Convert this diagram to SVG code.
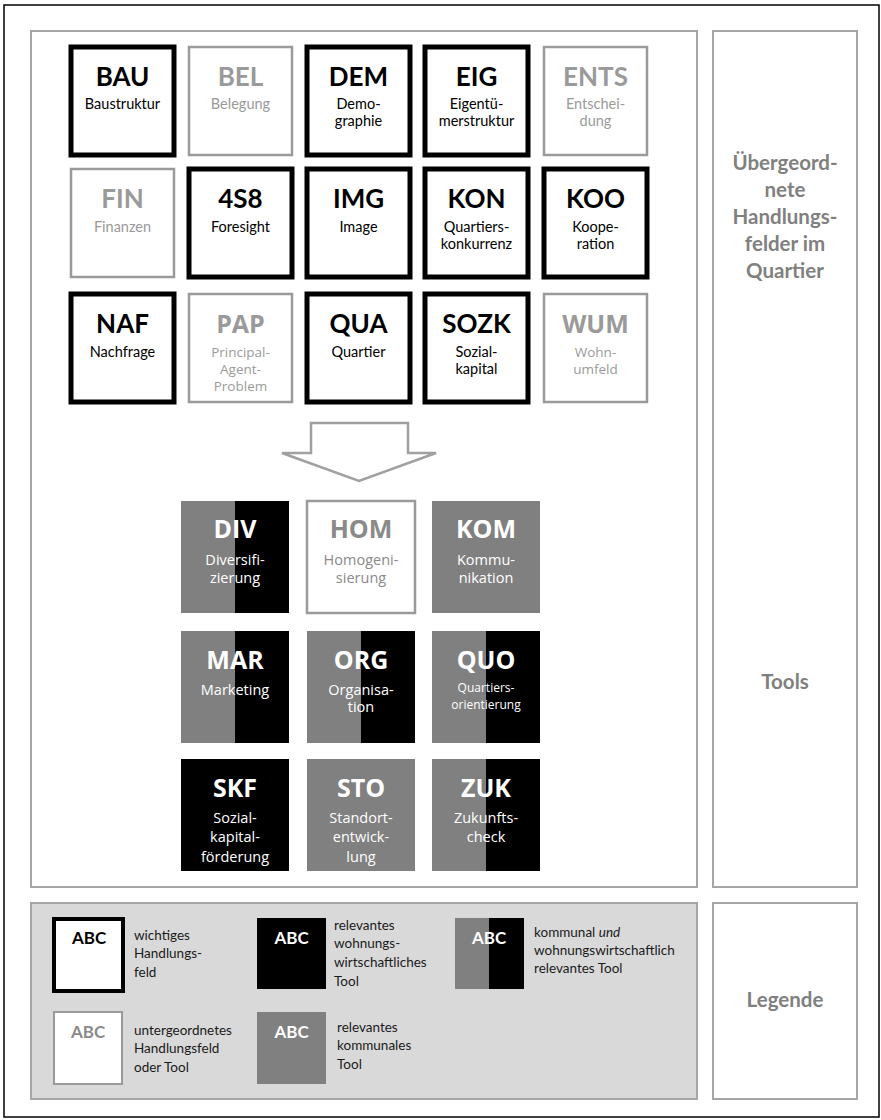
<svg xmlns="http://www.w3.org/2000/svg" width="881" height="1120" viewBox="0 0 881 1120">
<style>
.panel{fill:#fff;stroke:#a6a6a6;stroke-width:2}
.imp{fill:#fff;stroke:#000;stroke-width:5}
.sub{fill:#fff;stroke:#9a9a9a;stroke-width:2.5}
.ab{font-family:Lato,"Liberation Sans",sans-serif;font-weight:bold;font-size:26px;text-anchor:middle}
.st{font-family:Lato,"Liberation Sans",sans-serif;font-size:14.5px;text-anchor:middle}
.abo{font-family:"Open Sans","Liberation Sans",sans-serif;font-weight:bold;font-size:25px;text-anchor:middle}
.sto{font-family:"Open Sans","Liberation Sans",sans-serif;font-size:14.5px;text-anchor:middle}
.k{fill:#000}
.g{fill:#9a9a9a}
.w{fill:#fff}
.gr{fill:#808080}
.bl{fill:#000}
.side{font-family:Lato,"Liberation Sans",sans-serif;font-weight:bold;font-size:20.5px;text-anchor:middle;fill:#808080}
.lg{font-family:Lato,"Liberation Sans",sans-serif;font-size:13.5px;fill:#1a1a1a}
.lab{font-family:Lato,"Liberation Sans",sans-serif;font-weight:bold;font-size:17px;text-anchor:middle}
</style>
<rect x="0" y="0" width="881" height="1120" fill="#fff"/>
<rect x="4" y="5" width="875" height="1112" fill="none" stroke="#000" stroke-width="1.5"/>
<g id="panels">
<rect class="panel" x="31" y="31" width="666" height="856"/>
<rect class="panel" x="713" y="31" width="144" height="856"/>
<rect x="31" y="903" width="666" height="196" fill="#d9d9d9" stroke="#a6a6a6" stroke-width="2"/>
<rect class="panel" x="713" y="903" width="144" height="196"/>
<text class="side" x="785" y="170">Übergeord-</text>
<text class="side" x="785" y="197">nete</text>
<text class="side" x="785" y="224">Handlungs-</text>
<text class="side" x="785" y="251">felder im</text>
<text class="side" x="785" y="278">Quartier</text>
<text class="side" x="785" y="689">Tools</text>
<text class="side" x="785" y="1007">Legende</text>
</g>
<g id="BAU"><rect class="imp" x="71" y="47" width="103" height="108"/><text class="ab k" x="122.5" y="86">BAU</text><text class="st k" x="122.5" y="109">Baustruktur</text></g>
<g id="BEL"><rect class="sub" x="189" y="47" width="103" height="108"/><text class="ab g" x="240.5" y="86">BEL</text><text class="st g" x="240.5" y="109">Belegung</text></g>
<g id="DEM"><rect class="imp" x="307" y="47" width="103" height="108"/><text class="ab k" x="358.5" y="86">DEM</text><text class="st k" x="358.5" y="109">Demo-</text><text class="st k" x="358.5" y="126">graphie</text></g>
<g id="EIG"><rect class="imp" x="425" y="47" width="103" height="108"/><text class="ab k" x="476.5" y="86">EIG</text><text class="st k" x="476.5" y="109">Eigentü-</text><text class="st k" x="476.5" y="126">merstruktur</text></g>
<g id="ENTS"><rect class="sub" x="544" y="47" width="103" height="108"/><text class="ab g" x="595.5" y="86">ENTS</text><text class="st g" x="595.5" y="109">Entschei-</text><text class="st g" x="595.5" y="126">dung</text></g>
<g id="FIN"><rect class="sub" x="71" y="169" width="103" height="108"/><text class="ab g" x="122.5" y="208">FIN</text><text class="st g" x="122.5" y="232">Finanzen</text></g>
<g id="4S8"><rect class="imp" x="189" y="169" width="103" height="108"/><text class="ab k" x="240.5" y="208">4S8</text><text class="st k" x="240.5" y="232">Foresight</text></g>
<g id="IMG"><rect class="imp" x="307" y="169" width="103" height="108"/><text class="ab k" x="358.5" y="208">IMG</text><text class="st k" x="358.5" y="232">Image</text></g>
<g id="KON"><rect class="imp" x="425" y="169" width="103" height="108"/><text class="ab k" x="476.5" y="208">KON</text><text class="st k" x="476.5" y="232">Quartiers-</text><text class="st k" x="476.5" y="249">konkurrenz</text></g>
<g id="KOO"><rect class="imp" x="544" y="169" width="103" height="108"/><text class="ab k" x="595.5" y="208">KOO</text><text class="st k" x="595.5" y="232">Koope-</text><text class="st k" x="595.5" y="249">ration</text></g>
<g id="NAF"><rect class="imp" x="71" y="294" width="103" height="108"/><text class="ab k" x="122.5" y="333">NAF</text><text class="st k" x="122.5" y="357">Nachfrage</text></g>
<g id="PAP"><rect class="sub" x="189" y="294" width="103" height="108"/><text class="abo g" x="240.5" y="333">PAP</text><text class="sto g" x="240.5" y="357" style="font-size:13.5px">Principal-</text><text class="sto g" x="240.5" y="374" style="font-size:13.5px">Agent-</text><text class="sto g" x="240.5" y="391" style="font-size:13.5px">Problem</text></g>
<g id="QUA"><rect class="imp" x="307" y="294" width="103" height="108"/><text class="ab k" x="358.5" y="333">QUA</text><text class="st k" x="358.5" y="357">Quartier</text></g>
<g id="SOZK"><rect class="imp" x="425" y="294" width="103" height="108"/><text class="ab k" x="476.5" y="333">SOZK</text><text class="st k" x="476.5" y="357">Sozial-</text><text class="st k" x="476.5" y="374">kapital</text></g>
<g id="WUM"><rect class="sub" x="544" y="294" width="103" height="108"/><text class="abo g" x="595.5" y="333">WUM</text><text class="sto g" x="595.5" y="357" style="font-size:13.5px">Wohn-</text><text class="sto g" x="595.5" y="374" style="font-size:13.5px">umfeld</text></g>
<g id="connectors">
<polygon points="311,423 408,423 408,453 436,453 359,481 282,453 311,453" fill="#fff" stroke="#a0a0a0" stroke-width="2.5" stroke-linejoin="miter"/>
</g>
<g id="DIV"><rect class="gr" x="181" y="501" width="54" height="112"/><rect class="bl" x="235" y="501" width="54" height="112"/><text class="abo w" x="235" y="538">DIV</text><text class="sto w" x="235" y="565">Diversifi-</text><text class="sto w" x="235" y="583">zierung</text></g>
<g id="HOM"><rect class="sub" x="307" y="501" width="108" height="112"/><text class="abo" fill="#8a8a8a" x="361" y="538">HOM</text><text class="sto" fill="#8a8a8a" x="361" y="565">Homogeni-</text><text class="sto" fill="#8a8a8a" x="361" y="583">sierung</text></g>
<g id="KOM"><rect class="gr" x="432" y="501" width="108" height="112"/><text class="abo w" x="486" y="538">KOM</text><text class="sto w" x="486" y="565">Kommu-</text><text class="sto w" x="486" y="583">nikation</text></g>
<g id="MAR"><rect class="gr" x="181" y="631" width="54" height="112"/><rect class="bl" x="235" y="631" width="54" height="112"/><text class="abo w" x="235" y="669">MAR</text><text class="sto w" x="235" y="695">Marketing</text></g>
<g id="ORG"><rect class="gr" x="307" y="631" width="54" height="112"/><rect class="bl" x="361" y="631" width="54" height="112"/><text class="abo w" x="361" y="669">ORG</text><text class="sto w" x="361" y="695">Organisa-</text><text class="sto w" x="361" y="712">tion</text></g>
<g id="QUO"><rect class="gr" x="432" y="631" width="54" height="112"/><rect class="bl" x="486" y="631" width="54" height="112"/><text class="abo w" x="486" y="669">QUO</text><text class="sto w" x="486" y="692" style="font-size:12px">Quartiers-</text><text class="sto w" x="486" y="709" style="font-size:12px">orientierung</text></g>
<g id="SKF"><rect class="bl" x="181" y="759" width="108" height="112"/><text class="abo w" x="235" y="797">SKF</text><text class="sto w" x="235" y="823">Sozial-</text><text class="sto w" x="235" y="842">kapital-</text><text class="sto w" x="235" y="862">förderung</text></g>
<g id="STO"><rect class="gr" x="307" y="759" width="108" height="112"/><text class="abo w" x="361" y="797">STO</text><text class="sto w" x="361" y="823">Standort-</text><text class="sto w" x="361" y="842">entwick-</text><text class="sto w" x="361" y="862">lung</text></g>
<g id="ZUK"><rect class="gr" x="432" y="759" width="54" height="112"/><rect class="bl" x="486" y="759" width="54" height="112"/><text class="abo w" x="486" y="797">ZUK</text><text class="sto w" x="486" y="823">Zukunfts-</text><text class="sto w" x="486" y="842">check</text></g>
<g id="legend">
<g id="leg-important"><rect x="54" y="919" width="69" height="72" fill="#fff" stroke="#000" stroke-width="4"/><text class="lab k" x="89" y="944">ABC</text><text class="lg" x="134" y="940">wichtiges</text><text class="lg" x="134" y="958">Handlungs-</text><text class="lg" x="134" y="977">feld</text></g>
<g id="leg-housing"><rect x="257" y="918" width="69" height="71" fill="#000"/><text class="lab w" x="291.5" y="944">ABC</text><text class="lg" x="334" y="930">relevantes</text><text class="lg" x="334" y="948">wohnungs-</text><text class="lg" x="334" y="967">wirtschaftliches</text><text class="lg" x="334" y="986">Tool</text></g>
<g id="leg-both"><rect x="455" y="918" width="34" height="71" fill="#808080"/><rect x="489" y="918" width="35" height="71" fill="#000"/><text class="lab w" x="489" y="944">ABC</text><text class="lg" x="534" y="937">kommunal <tspan font-style="italic">und</tspan></text><text class="lg" x="534" y="955">wohnungswirtschaftlich</text><text class="lg" x="534" y="973">relevantes Tool</text></g>
<g id="leg-sub"><rect x="54" y="1012" width="68" height="72" fill="#fff" stroke="#9a9a9a" stroke-width="2"/><text class="lab" fill="#8a8a8a" x="88" y="1038">ABC</text><text class="lg" x="134" y="1035">untergeordnetes</text><text class="lg" x="134" y="1053">Handlungsfeld</text><text class="lg" x="134" y="1072">oder Tool</text></g>
<g id="leg-municipal"><rect x="257" y="1012" width="69" height="72" fill="#808080"/><text class="lab w" x="291.5" y="1038">ABC</text><text class="lg" x="337" y="1032">relevantes</text><text class="lg" x="337" y="1050">kommunales</text><text class="lg" x="337" y="1069">Tool</text></g>
</g>
</svg>
